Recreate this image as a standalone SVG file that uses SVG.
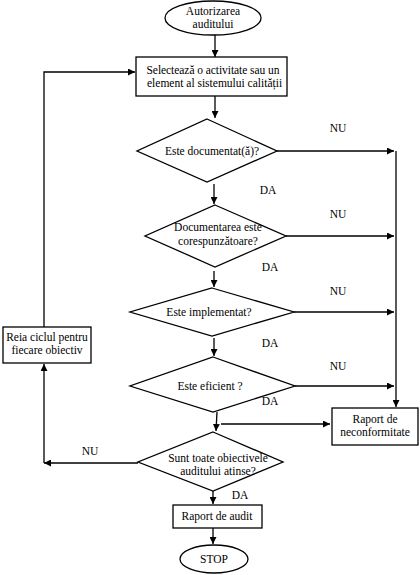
<svg xmlns="http://www.w3.org/2000/svg" width="420" height="575" viewBox="0 0 420 575">
<defs>
<marker id="ah" viewBox="0 0 10 10" refX="10" refY="5" markerWidth="7" markerHeight="7" markerUnits="userSpaceOnUse" orient="auto">
<path d="M0,0 L10,5 L0,10 z" fill="#000"/>
</marker>
<style>
.s{fill:#fff;stroke:#000;stroke-width:1.3}
.c{fill:none;stroke:#000;stroke-width:1.3;marker-end:url(#ah)}
text{font-family:'Liberation Serif','Times New Roman','DejaVu Serif',serif;font-size:11.5px;fill:#000;text-anchor:middle}
</style>
</defs>
<rect width="420" height="575" fill="#fff"/>
<g id="connectors">
<path class="c" d="M215,35 V57"/>
<path class="c" d="M215,96 V118"/>
<path class="c" d="M214,184 V204"/>
<path class="c" d="M214,271 V287"/>
<path class="c" d="M214,338 V356"/>
<path class="c" d="M217,412 L216,431"/>
<path class="c" d="M221,424 H330"/>
<path class="c" d="M277,151 H394"/>
<path class="c" d="M286,236 H394"/>
<path class="c" d="M294,312 H394"/>
<path class="c" d="M295,386 H394"/>
<path class="c" d="M396,151 V407"/>
<path class="c" d="M138,463 H44"/>
<path class="c" d="M44,463 V364"/>
<path class="c" d="M44,327 V72 H135"/>
<path class="c" d="M213,491 V504"/>
<path class="c" d="M213,528 V544"/>
</g>
<g id="n_start"><ellipse class="s" cx="213" cy="18" rx="48" ry="17"/><text x="213" y="15">Autorizarea</text><text x="213" y="28">auditului</text></g>
<g id="n_select"><rect class="s" x="136" y="57" width="151" height="39"/><text x="213" y="74" textLength="133" lengthAdjust="spacing">Selectează o activitate sau un</text><text x="147" y="87" style="text-anchor:start">element al sistemului calității</text></g>
<g id="n_d1"><polygon class="s" points="207,119 277,151 207,182 137,151"/><text x="212" y="155">Este documentat(ă)?</text></g>
<g id="n_d2"><polygon class="s" points="215,205 286,236 215,267 145,236"/><text x="218" y="231">Documentarea este</text><text x="218" y="245">corespunzătoare?</text></g>
<g id="n_d3"><polygon class="s" points="212,288 294,312 212,336 130,312"/><text x="209" y="316">Este implementat?</text></g>
<g id="n_d4"><polygon class="s" points="213,357 295,386 213,412 130,386"/><text x="210" y="390">Este eficient ?</text></g>
<g id="n_d5"><polygon class="s" points="213,432 283,462 213,491 138,462"/><text x="218" y="462">Sunt toate obiectivele</text><text x="218" y="475">auditului atinse?</text></g>
<g id="n_neconf"><rect class="s" x="332" y="408" width="86" height="37"/><text x="375" y="423">Raport de</text><text x="375" y="436">neconformitate</text></g>
<g id="n_reia"><rect class="s" x="3" y="327" width="88" height="36"/><text x="47" y="341">Reia ciclul pentru</text><text x="47" y="354">fiecare obiectiv</text></g>
<g id="n_audit"><rect class="s" x="173" y="505" width="89" height="23"/><text x="217" y="520">Raport de audit</text></g>
<g id="n_stop"><ellipse class="s" cx="214" cy="559" rx="34" ry="14"/><text x="214" y="563">STOP</text></g>
<g id="labels">
<text x="338" y="132">NU</text>
<text x="338" y="218">NU</text>
<text x="338" y="295">NU</text>
<text x="338" y="370">NU</text>
<text x="268" y="194">DA</text>
<text x="270" y="271">DA</text>
<text x="270" y="347">DA</text>
<text x="270" y="405">DA</text>
<text x="240" y="499">DA</text>
<text x="90" y="455">NU</text>
</g>
</svg>
